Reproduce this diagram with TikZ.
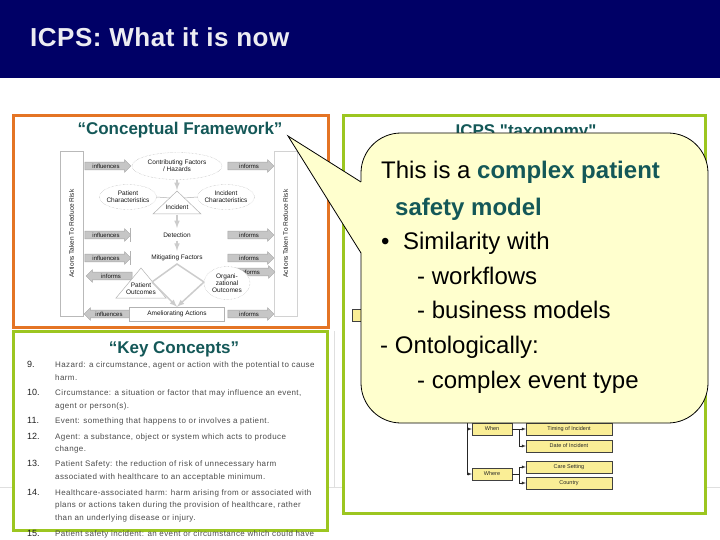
\documentclass[tikz,border=0pt]{standalone}
\usepackage{fontspec}
\setmainfont{Liberation Sans}
\usetikzlibrary{arrows,shapes.geometric,shapes.arrows,positioning,calc}

\definecolor{slidenavy}{RGB}{0,0,102}
\definecolor{cforange}{RGB}{228,116,36}
\definecolor{kcgreen}{RGB}{156,198,32}
\definecolor{icpsteal}{RGB}{20,88,88}
\definecolor{callyellow}{RGB}{255,255,206}
\definecolor{taxyellow}{RGB}{250,238,150}

\tikzset{
  slidetitle/.style={inner sep=0pt, text={rgb,255:red,236;green,236;blue,242},
    font=\fontsize{26}{30}\selectfont\bfseries\addfontfeature{LetterSpace=2}},
  framebox/.style={line width=3pt, fill=white},
  heading/.style={inner sep=0pt, text=icpsteal, font=\fontsize{17}{20}\selectfont\bfseries},
  gridline/.style={draw=gray!25, line width=0.6pt},
  cfline/.style={draw=gray!60, line width=0.5pt},
  cftext/.style={inner sep=0pt, align=center, text=gray!20!black, font=\fontsize{6.5}{7}\selectfont},
  cfell/.style={ellipse, draw=gray!65, densely dotted, fill=white, inner xsep=-3pt, inner ysep=0pt,
    align=center, text=gray!20!black, font=\fontsize{6.5}{7}\selectfont},
  cfarrow/.style={single arrow, fill=gray!45, draw=gray!70, inner sep=1.4pt, minimum height=46pt,
    minimum width=12pt, single arrow head extend=2.5pt, text=gray!15!black, font=\fontsize{6}{6}\selectfont},
  cfflow/.style={->, >=latex, draw=gray!40, line width=1.5pt},
  cfside/.style={draw=gray!55, fill=white, minimum width=23pt, minimum height=165pt, inner sep=0pt},
  kcnum/.style={anchor=base west, inner sep=0pt, text=gray!25!black, font=\fontsize{9}{9}\selectfont},
  kctext/.style={anchor=base west, inner sep=0pt, text=gray!60!black,
    font=\fontsize{8}{9}\selectfont\addfontfeature{LetterSpace=5}},
  taxbox/.style={draw=gray!50!black, fill=taxyellow, minimum height=12pt, inner sep=0pt,
    line width=0.4pt, text=gray!30!black, font=\fontsize{5.5}{6}\selectfont},
  taxline/.style={draw=gray!30!black, line width=0.4pt},
  taxarr/.style={->, >=latex, draw=gray!30!black, line width=0.4pt},
  callbox/.style={draw=black, fill=callyellow, line width=0.8pt, rounded corners=40pt,
    minimum width=347pt, minimum height=290pt, inner sep=0pt},
  calltext/.style={anchor=base west, inner sep=0pt, font=\fontsize{24}{28}\selectfont}
}

\begin{document}
\begin{tikzpicture}[x=1pt,y=-1pt]
\useasboundingbox (0,0) rectangle (720,540);

%HEADER
\fill[slidenavy] (0,0) rectangle (720,78);
\node[slidetitle, anchor=west] (slidetitle) at (30,37) {ICPS: What it is now};

%TEMPLATE LINES
\draw[gridline] (0,487) -- (13,487) (328,487) -- (343,487) (693,487) -- (720,487);
\draw[gridline] (334,331) -- (334,487);

%CONCEPTUAL FRAMEWORK
\draw[framebox, draw=cforange] (13,116) rectangle (328,327);
\node[heading, anchor=base] (cftitle) at (180,135) {“Conceptual Framework”};

\node[cfside] (leftbar) at (71.5,233.5) {};
\node[cftext, rotate=90] (lefttext) at (leftbar) {Actions Taken To Reduce Risk};
\node[cfside, draw=gray!35] (rightbar) at (285.5,233.5) {};
\node[cftext, rotate=90] (righttext) at (rightbar) {Actions Taken To Reduce Risk};

\node[cfarrow] (inf1) at (106,166) {influences};
\node[cfarrow] (inf2) at (106,235) {influences};
\node[cfarrow] (inf3) at (106,258) {influences};
\node[cfarrow, shape border rotate=180] (inf4) at (109,314) {influences};
\node[cfarrow] (infm1) at (249,166) {informs};
\node[cfarrow] (infm2) at (249,235) {informs};
\node[cfarrow] (infm4) at (250,272) {informs};
\node[cfarrow] (infm3) at (249,258) {informs};
\node[cfarrow, shape border rotate=180] (infm5) at (111,276) {informs};
\node[cfarrow] (infm6) at (249,314) {informs};

\draw[cfline] (130,228) -- (130,242) (130,251) -- (130,265);

\node[cfell, minimum width=90pt, minimum height=27pt] (contrib) at (177,166)
  {Contributing Factors\\/ Hazards};
\node[cfell, minimum width=57pt, minimum height=25pt] (patchar) at (128,197)
  {Patient\\Characteristics};
\node[cfell, minimum width=57pt, minimum height=25pt] (incchar) at (226,197)
  {Incident\\Characteristics};

\draw[cfline] (153,214) -- (177,191) -- (201,214) -- cycle;
\node[cftext] (incident) at (177,207) {Incident};
\draw[cfline] (patchar.east) -- (170,198);
\draw[cfline] (incchar.west) -- (184,198);
\draw[cfflow] (contrib.south) -- (177,190);

\node[cftext] (detect) at (177,235) {Detection};
\node[cftext] (mitig) at (177,258) {Mitigating Factors};
\draw[cfflow] (177,215) -- (177,228);
\draw[cfflow, shorten <=3pt, shorten >=4pt] (detect.south) -- (mitig.north);

\node[cfell, minimum width=46pt, minimum height=33pt] (orgout) at (227,283)
  {Organi-\\zational\\Outcomes};
\draw[cfline, fill=white] (116,298) -- (141,268) -- (166,298) -- cycle;
\node[cftext] (patout) at (141,289) {Patient\\Outcomes};

\node[cftext, draw=gray!60, fill=white, minimum width=95pt, minimum height=14pt] (amel)
  at (177,314) {Ameliorating Actions};

\coordinate (dtop) at (177,264);
\coordinate (dleft) at (152,282);
\coordinate (dright) at (204,282);
\draw[cfflow, -] (dleft) -- (dtop) -- (dright);
\draw[cfflow] (dleft) -- (amel.north);
\draw[cfflow] (dright) -- (amel.north);

%KEY CONCEPTS
\draw[framebox, draw=kcgreen] (13,331) rectangle (327,530);
\node[heading, anchor=base] (kctitle) at (174,353) {“Key Concepts”};

\node[kcnum] (n9) at (27,367) {9.};
\node[kctext] (k9a) at (55,367) {Hazard: a circumstance, agent or action with the potential to cause};
\node[kctext] (k9b) at (55,380) {harm.};
\node[kcnum] (n10) at (27,395) {10.};
\node[kctext] (k10a) at (55,395) {Circumstance: a situation or factor that may influence an event,};
\node[kctext] (k10b) at (55,408) {agent or person(s).};
\node[kcnum] (n11) at (27,423) {11.};
\node[kctext] (k11a) at (55,423) {Event: something that happens to or involves a patient.};
\node[kcnum] (n12) at (27,439) {12.};
\node[kctext] (k12a) at (55,439) {Agent: a substance, object or system which acts to produce};
\node[kctext] (k12b) at (55,451) {change.};
\node[kcnum] (n13) at (27,466) {13.};
\node[kctext] (k13a) at (55,466) {Patient Safety: the reduction of risk of unnecessary harm};
\node[kctext] (k13b) at (55,479) {associated with healthcare to an acceptable minimum.};
\node[kcnum] (n14) at (27,495) {14.};
\node[kctext] (k14a) at (55,495) {Healthcare-associated harm: harm arising from or associated with};
\node[kctext] (k14b) at (55,507) {plans or actions taken during the provision of healthcare, rather};
\node[kctext] (k14c) at (55,520) {than an underlying disease or injury.};
\node[kcnum] (n15) at (27,536) {15.};
\node[kctext] (k15a) at (55,536) {Patient safety incident: an event or circumstance which could have};

%ICPS TAXONOMY
\draw[framebox, draw=kcgreen] (343,116) rectangle (705,513);
\node[heading, anchor=base] (taxtitle) at (526,137)
  {\addfontfeature{Ligatures=TeXOff}ICPS "taxonomy"};

\node[taxbox, minimum width=23pt] (taxa) at (364,315.5) {};
\node[taxbox, minimum width=40pt] (when) at (492,429) {When};
\node[taxbox, minimum width=40pt] (where) at (492,474) {Where};
\node[taxbox, minimum width=86pt] (timing) at (569,429) {Timing of Incident};
\node[taxbox, minimum width=86pt] (date) at (569,446) {Date of Incident};
\node[taxbox, minimum width=86pt] (care) at (569,467) {Care Setting};
\node[taxbox, minimum width=86pt] (country) at (569,483) {Country};

\coordinate (trunk) at (467,410);
\draw[taxline] (trunk) -- (trunk |- where);
\draw[taxarr] (trunk |- when) -- (when.west);
\draw[taxarr] (trunk |- where) -- (where.west);
\draw[taxarr] (when) -- (timing);
\coordinate (whenfork) at ($(when.east)!0.5!(timing.west)$);
\draw[taxarr] (whenfork) |- (date.west);
\draw[taxline] (where.east) -- ++(7,0) coordinate (wherefork);
\draw[taxarr] (wherefork) |- (care.west);
\draw[taxarr] (wherefork) |- (country.west);

%CALLOUT
\node[callbox] (callout) at (534.5,278) {};
\coordinate (tip) at (288,136);
\fill[callyellow] (tip) -- (361.3,182) -- (363,182) -- (363,253) -- (361.3,253) -- cycle;
\draw[line width=0.8pt] (361,182) -- (tip) -- (361,253);

\node[calltext] (c1) at (381,179) {This is a \textcolor{icpsteal}{\bfseries complex patient}};
\node[calltext] (c2) at (395,215) {\textcolor{icpsteal}{\bfseries safety model}};
\node[calltext] (c3) at (381,249) {•\hspace{13.5pt}Similarity with};
\node[calltext] (c4) at (417,284) {- workflows};
\node[calltext] (c5) at (417,318) {- business models};
\node[calltext] (c6) at (380,353) {- Ontologically:};
\node[calltext] (c7) at (417,388) {- complex event type};
\end{tikzpicture}
\end{document}
